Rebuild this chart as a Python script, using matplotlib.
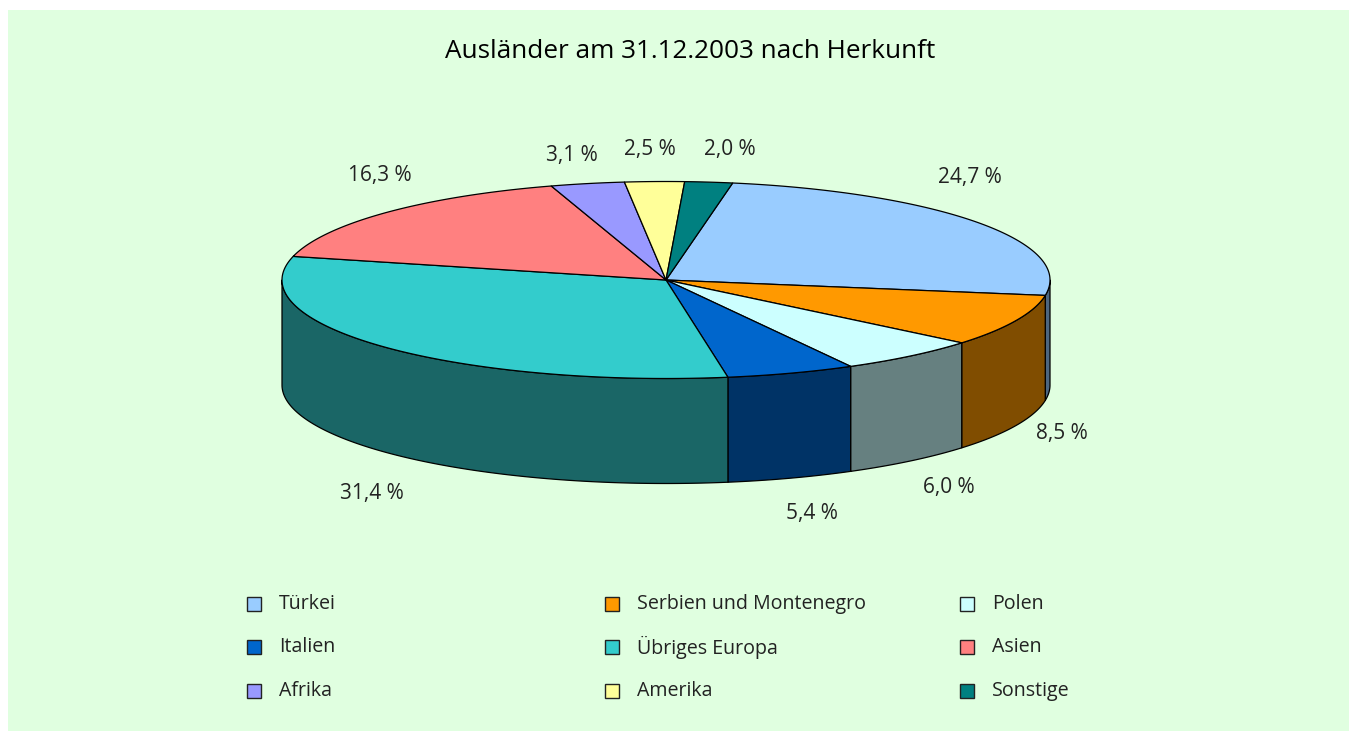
import numpy as np
import matplotlib
matplotlib.use("Agg")
import matplotlib.pyplot as plt
from matplotlib.patches import Polygon, Rectangle

# ---------------- data ----------------
categories = ["Türkei", "Serbien und Montenegro", "Polen", "Italien",
              "Übriges Europa", "Asien", "Afrika", "Amerika", "Sonstige"]
shares = [24.7, 8.5, 6.0, 5.4, 31.4, 16.3, 3.1, 2.5, 2.0]
labels = ["24,7 %", "8,5 %", "6,0 %", "5,4 %", "31,4 %", "16,3 %", "3,1 %", "2,5 %", "2,0 %"]
title = "Ausländer am 31.12.2003 nach Herkunft"

# ---------------- style / layout ----------------
colors = ["#99CCFF", "#FF9900", "#CCFFFF", "#0066CC", "#33CCCC",
          "#FF8080", "#9999FF", "#FFFF99", "#008080"]
bg = "#E0FFE0"
txt_col = "#222222"
W, H = 1349, 731
cx, cy, rx, ry, depth = 666, 280, 384, 98.5, 105
start_angle = 10.0  # degrees clockwise from top
label_pos = [(970, 178), (1062, 434), (949, 488), (812, 514), (372, 494),
             (380, 175), (572, 156), (650, 150), (730, 150)]
font = ["Open Sans", "DejaVu Sans"]

plt.rcParams['font.family'] = font

fig = plt.figure(figsize=(W / 100, H / 100), dpi=100)
fig.patch.set_facecolor(bg)
ax = fig.add_axes([0, 0, 1, 1])
ax.set_xlim(0, W)
ax.set_ylim(H, 0)
ax.axis("off")
# white margins at top and left
ax.add_patch(Rectangle((-5, -5), W + 10, 15, facecolor="white", edgecolor="none", zorder=0))
ax.add_patch(Rectangle((-5, -5), 13, H + 10, facecolor="white", edgecolor="none", zorder=0))


def pt(theta_deg, dz=0.0):
    t = np.radians(theta_deg)
    return cx + rx * np.sin(t), cy - ry * np.cos(t) + dz


def darker(c, f=0.5):
    r, g, b = matplotlib.colors.to_rgb(c)
    return (r * f, g * f, b * f)


total = sum(shares)
angles = [start_angle]
for s in shares:
    angles.append(angles[-1] + s / total * 360.0)

# side walls (front half visible: 90..270 degrees)
for i in range(len(shares)):
    a0, a1 = angles[i], angles[i + 1]
    lo, hi = max(a0, 90.0), min(a1, 270.0)
    if hi <= lo:
        continue
    th = np.linspace(lo, hi, 200)
    top = [pt(t) for t in th]
    bot = [pt(t, depth) for t in th[::-1]]
    ax.add_patch(Polygon(top + bot, closed=True, facecolor=darker(colors[i]),
                         edgecolor="black", linewidth=0.9, joinstyle="round", zorder=2))

# top faces
for i in range(len(shares)):
    a0, a1 = angles[i], angles[i + 1]
    n = max(int((a1 - a0) * 3), 10)
    th = np.linspace(a0, a1, n)
    verts = [(cx, cy)] + [pt(t) for t in th]
    ax.add_patch(Polygon(verts, closed=True, facecolor=colors[i],
                         edgecolor="black", linewidth=0.9, joinstyle="round", zorder=3))

# labels
for lab, (x, y) in zip(labels, label_pos):
    ax.text(x, y, lab, fontsize=15, color=txt_col, ha="center", va="center", zorder=5)

# title
ax.text(690, 52, title, fontsize=18.8, color="black", ha="center", va="center")

# legend (3 columns)
col_x = [254, 612, 967]
row_y = [604, 647, 691]
for i, (name, c) in enumerate(zip(categories, colors)):
    r, k = divmod(i, 3)
    x, y = col_x[k], row_y[r]
    ax.add_patch(Rectangle((x - 7, y - 7), 14, 14, facecolor=c, edgecolor="#222222",
                           linewidth=1.0, zorder=4))
    ax.text(x + 25, y, name, fontsize=14.1, color=txt_col, ha="left", va="center")

fig.savefig("out.png", dpi=100, facecolor=fig.get_facecolor())
